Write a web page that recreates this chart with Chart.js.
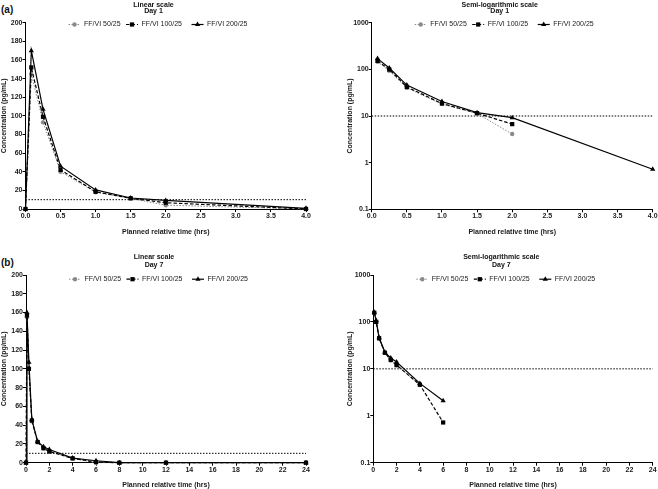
<!DOCTYPE html>
<html>
<head>
<meta charset="utf-8">
<script src="https://cdn.jsdelivr.net/npm/chart.js@4.4.1/dist/chart.umd.min.js"></script>
<style>
body { margin: 0; background: #fff; }
#page { position: relative; width: 658px; height: 489px; overflow: hidden; }
canvas { position: absolute; }
.tag { position: absolute; left: 1px; font: bold 10px "Liberation Sans", Arial, sans-serif; line-height: 10px; color: #111; }
</style>
</head>
<body>
<div id="page">
  <div class="tag" style="top:5px">(a)</div>
  <div class="tag" style="top:258px">(b)</div>
  <canvas id="d1lin" width="329" height="240" style="left:0px;top:0px"></canvas>
  <canvas id="d1log" width="312" height="240" style="left:346px;top:0px"></canvas>
  <canvas id="d7lin" width="329" height="244" style="left:0px;top:245px"></canvas>
  <canvas id="d7log" width="312" height="244" style="left:346px;top:245px"></canvas>
</div>
<script>
// values (pg/mL); 0 = below limit, not shown on log plots
var seriesNames = ["FF/VI 50/25", "FF/VI 100/25", "FF/VI 200/25"];

var timeDay1 = [0, 0.083, 0.25, 0.5, 1, 1.5, 2, 4];
var day1FF50 = [0, 145, 93, 40, 18, 11.3, 4.1, 0];
var day1FF100 = [0, 152, 99, 42, 18.5, 11.5, 6.7, 0];
var day1FF200 = [0, 170, 107, 46, 20.5, 11.8, 9.2, 0.72];

var timeDay7 = [0, 0.083, 0.25, 0.5, 1, 1.5, 2, 4, 6, 8, 12, 24];
var day7FF50 = [0, 155, 100, 44, 22, 15, 12, 4.5, 0, 0, 0, 0];
var day7FF100 = [0, 157, 100, 45, 22, 15.5, 12, 4.6, 0.72, 0, 0, 0];
var day7FF200 = [0, 160, 107, 46, 22.5, 17, 14, 4.9, 2.1, 0, 0, 0];

var llq = 10;
var logTicks = [0.1, 1, 10, 100, 1000];

Chart.defaults.font.family = '"Liberation Sans", Arial, sans-serif';
Chart.defaults.font.size = 7;
Chart.defaults.color = '#1a1a1a';

var seriesStyles = [
    { color: '#8a8a8a', dash: [1.5, 1.5], width: 1, point: 'circle', radius: 2.2 },
    { color: '#000000', dash: [3.5, 2], width: 1.2, point: 'rect', radius: 3 },
    { color: '#000000', dash: [], width: 1.2, point: 'triangle', radius: 3 }
];
var legendX = [43, 100.5, 166];

function makeHeader(titleLines, titleDy, legendDy) {
    return {
        id: 'panelHeader',
        afterDraw: function (chart) {
            var ctx = chart.ctx, a = chart.chartArea;
            ctx.save();
            ctx.fillStyle = '#111';
            ctx.textBaseline = 'middle';
            ctx.textAlign = 'center';
            ctx.font = 'bold 7px "Liberation Sans", Arial, sans-serif';
            ctx.fillText(titleLines[0], a.left + 128, a.top + titleDy[0]);
            ctx.fillText(titleLines[1], a.left + 128, a.top + titleDy[1]);
            // legend: short line + marker, then label
            var y = a.top + legendDy;
            ctx.textAlign = 'left';
            ctx.font = '7px "Liberation Sans", Arial, sans-serif';
            chart.data.datasets.forEach(function (ds, i) {
                if (!ds.label) return;
                var st = seriesStyles[i];
                var x0 = a.left + legendX[i];
                ctx.strokeStyle = st.color;
                ctx.lineWidth = st.width;
                ctx.setLineDash(st.dash);
                ctx.beginPath();
                ctx.moveTo(x0, y);
                ctx.lineTo(x0 + 12, y);
                ctx.stroke();
                ctx.setLineDash([]);
                ctx.fillStyle = st.color;
                Chart.helpers.drawPoint(ctx, { pointStyle: st.point, radius: st.radius, rotation: 0, borderWidth: 0 }, x0 + 6, y);
                ctx.fillStyle = '#1a1a1a';
                ctx.fillText(ds.label, x0 + 15.5, y);
            });
            ctx.restore();
        }
    };
}

function makeDatasets(times, values, xMax, logScale) {
    var sets = values.map(function (vals, i) {
        var st = seriesStyles[i];
        return {
            label: seriesNames[i],
            data: times.map(function (t, j) {
                var v = vals[j];
                return { x: t, y: (logScale && v <= 0) ? null : v };
            }),
            order: values.length - 1 - i, // black series drawn on top
            borderColor: st.color,
            backgroundColor: st.color,
            borderDash: st.dash,
            borderWidth: st.width,
            pointStyle: st.point,
            pointRadius: st.radius,
            pointHoverRadius: st.radius,
            pointBorderWidth: 0,
            tension: 0,
            clip: false
        };
    });
    sets.push({
        label: '',
        data: [{ x: 0, y: llq }, { x: xMax, y: llq }],
        order: values.length,
        borderColor: '#000',
        borderDash: [1.5, 1.5],
        borderWidth: 1,
        pointRadius: 0,
        clip: false
    });
    return sets;
}

function makePanel(id, box, area, times, values, xMax, xStep, logScale, header, xTitlePad) {
    var axisGrid = { drawOnChartArea: false, drawTicks: true, tickLength: 3, color: '#000' };
    var yScale = logScale ? {
        type: 'logarithmic', min: 0.1, max: 1000,
        afterBuildTicks: function (s) { s.ticks = logTicks.map(function (v) { return { value: v }; }); },
        ticks: { callback: function (v) { return String(v); }, font: { weight: 'bold' }, padding: 0 }
    } : {
        type: 'linear', min: 0, max: 200,
        ticks: { stepSize: 20, font: { weight: 'bold' }, padding: 0 }
    };
    yScale.grid = axisGrid;
    yScale.border = { display: true, color: '#000', width: 1 };
    yScale.title = { display: true, text: 'Concentration (pg/mL)', font: { weight: 'bold' }, padding: { top: 0, bottom: 0 } };
    yScale.afterFit = function (s) { s.width = area.l - box.left; };

    new Chart(document.getElementById(id).getContext('2d'), {
        type: 'line',
        data: { datasets: makeDatasets(times, values, xMax, logScale) },
        options: {
            responsive: false,
            animation: false,
            events: [],
            layout: { padding: { left: 0, top: area.t - box.top, right: box.left + box.w - area.r, bottom: 0 } },
            plugins: { legend: { display: false }, tooltip: { enabled: false } },
            scales: {
                x: {
                    type: 'linear', min: 0, max: xMax,
                    ticks: {
                        stepSize: xStep, autoSkip: false, maxRotation: 0, padding: 0,
                        font: { weight: 'bold' },
                        callback: function (v) { return xMax <= 4 ? v.toFixed(1) : String(v); }
                    },
                    grid: axisGrid,
                    border: { display: true, color: '#000', width: 1 },
                    title: { display: true, text: 'Planned relative time (hrs)', font: { weight: 'bold' }, padding: { top: 0, bottom: xTitlePad } },
                    afterFit: function (s) { s.height = box.top + box.h - area.b; }
                },
                y: yScale
            }
        },
        plugins: [header]
    });
}

makePanel('d1lin', { left: 0, top: 0, w: 329, h: 240 }, { l: 25.5, t: 22.7, r: 306, b: 209 },
    timeDay1, [day1FF50, day1FF100, day1FF200], 4, 0.5, false,
    makeHeader(['Linear scale', 'Day 1'], [-18, -11.8], 1.8), 4);
makePanel('d1log', { left: 346, top: 0, w: 312, h: 240 }, { l: 371.7, t: 22.7, r: 652.7, b: 209.3 },
    timeDay1, [day1FF50, day1FF100, day1FF200], 4, 0.5, true,
    makeHeader(['Semi-logarithmic scale', 'Day 1'], [-18, -11.8], 1.8), 4);
makePanel('d7lin', { left: 0, top: 245, w: 329, h: 244 }, { l: 26, t: 275, r: 306, b: 462.7 },
    timeDay7, [day7FF50, day7FF100, day7FF200], 24, 2, false,
    makeHeader(['Linear scale', 'Day 7'], [-17.8, -10.4], 4.2), 0);
makePanel('d7log', { left: 346, top: 245, w: 312, h: 244 }, { l: 373.3, t: 275, r: 652.7, b: 462.7 },
    timeDay7, [day7FF50, day7FF100, day7FF200], 24, 2, true,
    makeHeader(['Semi-logarithmic scale', 'Day 7'], [-17.8, -10.4], 4.2), 0);
</script>
</body>
</html>
